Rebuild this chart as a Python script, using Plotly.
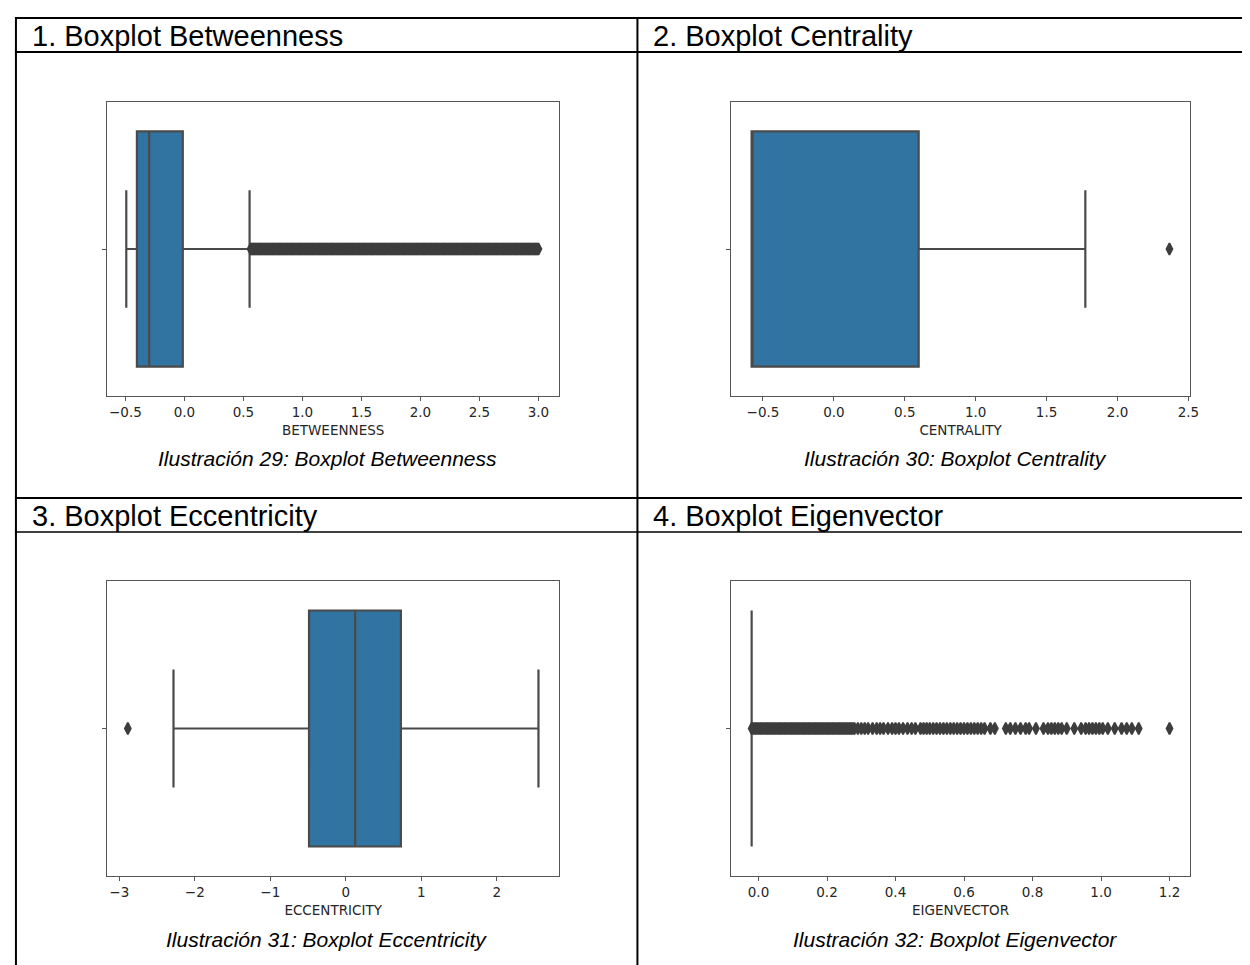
import plotly.graph_objects as go

W, H = 1250, 965

# ---------------- data ----------------
variables = ["BETWEENNESS", "CENTRALITY", "ECCENTRICITY", "EIGENVECTOR"]
headers = ["1. Boxplot Betweenness", "2. Boxplot Centrality",
           "3. Boxplot Eccentricity", "4. Boxplot Eigenvector"]
captions = ["Ilustración 29: Boxplot Betweenness", "Ilustración 30: Boxplot Centrality",
            "Ilustración 31: Boxplot Eccentricity", "Ilustración 32: Boxplot Eigenvector"]

q1_vals = [-0.403, -0.58, -0.487, -0.02]
median_vals = [-0.299, -0.58, 0.124, -0.02]
q3_vals = [-0.014, 0.598, 0.730, -0.02]
lowerfence_vals = [-0.493, -0.58, -2.282, -0.02]
upperfence_vals = [0.552, 1.773, 2.552, -0.02]

betweenness_outliers = [
    0.56, 0.57, 0.58, 0.59, 0.60, 0.61, 0.62, 0.63, 0.64, 0.65, 0.66, 0.67, 0.68, 0.69,
    0.70, 0.71, 0.72, 0.73, 0.74, 0.75, 0.76, 0.77, 0.78, 0.79, 0.80, 0.81, 0.82, 0.83,
    0.84, 0.85, 0.86, 0.87, 0.88, 0.89, 0.90, 0.91, 0.92, 0.93, 0.94, 0.95, 0.96, 0.97,
    0.98, 0.99, 1.00, 1.01, 1.02, 1.03, 1.04, 1.05, 1.06, 1.07, 1.08, 1.09, 1.10, 1.11,
    1.12, 1.13, 1.14, 1.15, 1.16, 1.17, 1.18, 1.19, 1.20, 1.21, 1.22, 1.23, 1.24, 1.25,
    1.26, 1.27, 1.28, 1.29, 1.30, 1.31, 1.32, 1.33, 1.34, 1.35, 1.36, 1.37, 1.38, 1.39,
    1.40, 1.41, 1.42, 1.43, 1.44, 1.45, 1.46, 1.47, 1.48, 1.49, 1.50, 1.51, 1.52, 1.53,
    1.54, 1.55, 1.56, 1.57, 1.58, 1.59, 1.60, 1.61, 1.62, 1.63, 1.64, 1.65, 1.66, 1.67,
    1.68, 1.69, 1.70, 1.71, 1.72, 1.73, 1.74, 1.75, 1.76, 1.77, 1.78, 1.79, 1.80, 1.81,
    1.82, 1.83, 1.84, 1.85, 1.86, 1.87, 1.88, 1.89, 1.90, 1.91, 1.92, 1.93, 1.94, 1.95,
    1.96, 1.97, 1.98, 1.99, 2.00, 2.01, 2.02, 2.03, 2.04, 2.05, 2.06, 2.07, 2.08, 2.09,
    2.10, 2.11, 2.12, 2.13, 2.14, 2.15, 2.16, 2.17, 2.18, 2.19, 2.20, 2.21, 2.22, 2.23,
    2.24, 2.25, 2.26, 2.27, 2.28, 2.29, 2.30, 2.31, 2.32, 2.33, 2.34, 2.35, 2.36, 2.37,
    2.38, 2.39, 2.40, 2.41, 2.42, 2.43, 2.44, 2.45, 2.46, 2.47, 2.48, 2.49, 2.50, 2.51,
    2.52, 2.53, 2.54, 2.55, 2.56, 2.57, 2.58, 2.59, 2.60, 2.61, 2.62, 2.63, 2.64, 2.65,
    2.66, 2.67, 2.68, 2.69, 2.70, 2.71, 2.72, 2.73, 2.74, 2.75, 2.76, 2.77, 2.78, 2.79,
    2.80, 2.81, 2.82, 2.83, 2.84, 2.85, 2.86, 2.87, 2.88, 2.89, 2.90, 2.91, 2.92, 2.93,
    2.94, 2.95, 2.96, 2.97, 2.98, 2.99, 3.00]
centrality_outliers = [2.366]
eccentricity_outliers = [-2.887]
eigenvector_outliers = [
    -0.02, -0.015, -0.01, -0.005, 0.0, 0.005, 0.01, 0.015, 0.02, 0.025, 0.03,
    0.035, 0.04, 0.045, 0.05, 0.055, 0.06, 0.065, 0.07, 0.075, 0.08, 0.085, 0.09,
    0.095, 0.10, 0.105, 0.11, 0.115, 0.12, 0.125, 0.13, 0.135, 0.14, 0.145, 0.15,
    0.155, 0.16, 0.165, 0.17, 0.175, 0.18, 0.185, 0.19, 0.195, 0.20, 0.205, 0.21,
    0.215, 0.22, 0.225, 0.23, 0.235, 0.24, 0.245, 0.25, 0.255, 0.26, 0.265, 0.27,
    0.275, 0.28, 0.29, 0.30, 0.31, 0.32, 0.333, 0.345, 0.355, 0.365, 0.378, 0.39,
    0.40, 0.41, 0.422, 0.435, 0.447, 0.458, 0.473, 0.482, 0.491, 0.50, 0.51, 0.52,
    0.53, 0.54, 0.55, 0.56, 0.57, 0.58, 0.59, 0.60, 0.61, 0.62, 0.63, 0.64, 0.65,
    0.66, 0.677, 0.69, 0.722, 0.735, 0.75, 0.765, 0.78, 0.79, 0.81, 0.832, 0.845,
    0.855, 0.865, 0.875, 0.885, 0.90, 0.922, 0.942, 0.955, 0.965, 0.975, 0.985,
    0.995, 1.005, 1.02, 1.04, 1.06, 1.075, 1.09, 1.11, 1.20]
outliers = [betweenness_outliers, centrality_outliers, eccentricity_outliers, eigenvector_outliers]

x_ranges = [[-0.654, 3.174], [-0.727, 2.514], [-3.159, 2.824], [-0.081, 1.261]]
tick_vals = [[-0.5, 0.0, 0.5, 1.0, 1.5, 2.0, 2.5, 3.0],
             [-0.5, 0.0, 0.5, 1.0, 1.5, 2.0, 2.5],
             [-3, -2, -1, 0, 1, 2],
             [0.0, 0.2, 0.4, 0.6, 0.8, 1.0, 1.2]]
tick_text = [["\u22120.5", "0.0", "0.5", "1.0", "1.5", "2.0", "2.5", "3.0"],
             ["\u22120.5", "0.0", "0.5", "1.0", "1.5", "2.0", "2.5"],
             ["\u22123", "\u22122", "\u22121", "0", "1", "2"],
             ["0.0", "0.2", "0.4", "0.6", "0.8", "1.0", "1.2"]]

# ---------------- layout geometry (pixels) ----------------
def fx(px):
    return px / W

def fy(py):
    return 1 - py / H

plot_boxes = [(100, 555, 94, 388), (728, 1191, 94, 388),
              (100, 555, 573, 868), (728, 1191, 573, 868)]
header_pos = [(22, 28), (648, 28), (22, 508), (648, 508)]
caption_pos = [(322, 451), (954, 451), (321, 931), (954, 931)]

FILL = "#3274a1"
EDGE = "#4a4a4a"
FRAME = "#555555"
TXT = "#262626"

fig = go.Figure()
layout_axes = {}
for i in range(4):
    xa = "x" if i == 0 else f"x{i+1}"
    ya = "y" if i == 0 else f"y{i+1}"
    fig.add_trace(go.Box(
        orientation="h", y=[0],
        q1=[q1_vals[i]], median=[median_vals[i]], q3=[q3_vals[i]],
        lowerfence=[lowerfence_vals[i]], upperfence=[upperfence_vals[i]],
        width=0.8, whiskerwidth=0.5, boxpoints=False,
        fillcolor=FILL, line=dict(color=EDGE, width=2.2),
        xaxis=xa, yaxis=ya, showlegend=False, hoverinfo="skip"))
    fig.add_trace(go.Scatter(
        x=outliers[i], y=[0] * len(outliers[i]), mode="markers",
        marker=dict(symbol="diamond-tall", size=8.5, color="#3d3d3d",
                    line=dict(color="#3d3d3d", width=1.8)),
        xaxis=xa, yaxis=ya, showlegend=False, hoverinfo="skip"))
    x0, x1, y0, y1 = plot_boxes[i]
    key = "" if i == 0 else str(i + 1)
    layout_axes["xaxis" + key] = dict(
        domain=[fx(x0), fx(x1)], anchor=ya, range=x_ranges[i],
        tickvals=tick_vals[i], ticktext=tick_text[i],
        ticks="outside", ticklen=4, tickcolor=FRAME, tickwidth=1,
        showline=True, linecolor=FRAME, linewidth=1.2, mirror=True,
        showgrid=False, zeroline=False,
        tickfont=dict(family="DejaVu Sans", size=13.5, color=TXT),
        title=dict(text=variables[i], standoff=6,
                   font=dict(family="DejaVu Sans", size=13.5, color=TXT)))
    layout_axes["yaxis" + key] = dict(
        domain=[fy(y1), fy(y0)], anchor=xa, range=[-0.5, 0.5],
        tickvals=[0], ticktext=[""], ticks="outside", ticklen=4,
        tickcolor=FRAME, showticklabels=False,
        showline=True, linecolor=FRAME, linewidth=1.2, mirror=True,
        showgrid=False, zeroline=False)

annotations = []
for i in range(4):
    hx, hy = header_pos[i]
    annotations.append(dict(
        x=fx(hx), y=fy(hy), xref="paper", yref="paper", xanchor="left",
        yanchor="middle", text=headers[i], showarrow=False,
        font=dict(family="Liberation Sans, Arial", size=29, color="black")))
    cx, cy = caption_pos[i]
    annotations.append(dict(
        x=fx(cx), y=fy(cy), xref="paper", yref="paper", xanchor="center",
        yanchor="middle", text="<i>" + captions[i] + "</i>", showarrow=False,
        font=dict(family="Liberation Sans, Arial", size=21, color="black")))

def hline(y, x0, x1, w):
    return dict(type="line", xref="paper", yref="paper", x0=fx(x0), x1=fx(x1),
                y0=fy(y), y1=fy(y), line=dict(color="black", width=w))

def vline(x, y0, y1, w):
    return dict(type="line", xref="paper", yref="paper", x0=fx(x), x1=fx(x),
                y0=fy(y0), y1=fy(y1), line=dict(color="black", width=w))

shapes = [
    hline(10, 7, W, 2), hline(44, 7, W, 2),
    hline(490, 7, W, 2), hline(524, 7, W, 1.5),
    vline(8, 9, H, 2), vline(634, 9, H, 2),
]

fig.update_layout(
    width=W, height=H, margin=dict(l=0, r=0, t=0, b=0),
    paper_bgcolor="white", plot_bgcolor="white",
    annotations=annotations, shapes=shapes, showlegend=False,
    hovermode=False, **layout_axes)

fig.write_html("out.html")
